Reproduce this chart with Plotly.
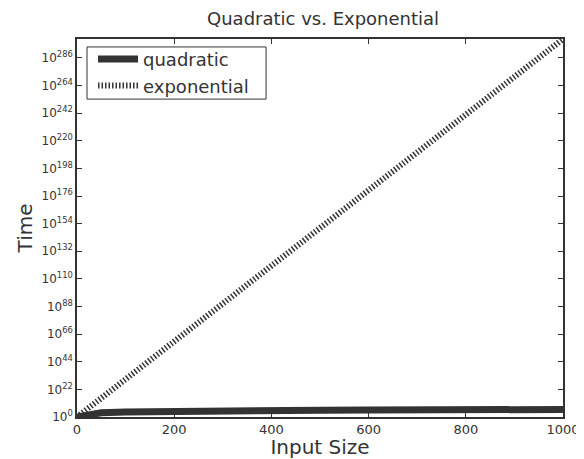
import plotly.graph_objects as go

# Data
quad_x = [1, 50, 100, 200, 300, 400, 500, 600, 700, 800, 900, 1000]
quad_y = [1, 2500, 1e4, 4e4, 9e4, 1.6e5, 2.5e5, 3.6e5, 4.9e5, 6.4e5, 8.1e5, 1e6]
exp_x = [0, 250, 500, 750, 1000]
exp_y = [1, 1.81e75, 3.27e150, 5.92e225, 1.07e301]

x_ticks = [0, 200, 400, 600, 800, 1000]
y_exponents = [0, 22, 44, 66, 88, 110, 132, 154, 176, 198, 220, 242, 264, 286]
y_tickvals = [10.0 ** e for e in y_exponents]
y_ticktext = ["10<sup>%d</sup>" % e for e in y_exponents]

ink = "#333333"
font = "DejaVu Sans"

fig = go.Figure()
fig.add_trace(go.Scatter(x=quad_x, y=quad_y, mode="lines", name="quadratic",
                         line=dict(color=ink, width=7)))
fig.add_trace(go.Scatter(x=exp_x, y=exp_y, mode="lines", name="exponential",
                         line=dict(color=ink, width=6, dash="1.5px,2px")))

# legend frame (drawn as a box behind the legend entries)
fig.add_shape(type="rect", xref="paper", yref="paper",
              x0=0.0206, x1=0.389, y0=0.841, y1=0.979,
              line=dict(color=ink, width=1), fillcolor="white", layer="above")

fig.update_layout(
    width=576, height=451,
    margin=dict(l=69, r=21, t=31, b=42, autoexpand=False),
    paper_bgcolor="white", plot_bgcolor="white",
    font=dict(family=font, color=ink, size=13),
    title=dict(text="Quadratic vs. Exponential", x=0.547, xanchor="center",
               xref="container", yref="paper",
               y=1.0, yanchor="bottom", pad=dict(b=14),
               font=dict(size=18, color=ink)),
    showlegend=True,
    legend=dict(x=0.033, y=0.995, xanchor="left", yanchor="top",
                bgcolor="rgba(0,0,0,0)", borderwidth=0,
                font=dict(size=18, color=ink), itemwidth=40,
                tracegroupgap=0),
)
fig.update_xaxes(
    range=[0, 1000], tickvals=x_ticks, ticks="inside", ticklen=5,
    tickcolor=ink, showline=True, linecolor=ink, linewidth=1.5, mirror="ticks",
    showgrid=False, zeroline=False, automargin=False,
    title=dict(text="Input Size", font=dict(size=20, color=ink), standoff=2),
    tickfont=dict(size=13, color=ink),
)
fig.update_yaxes(
    type="log", range=[0, 301.03], tickvals=y_tickvals, ticktext=y_ticktext,
    ticks="inside", ticklen=5, tickcolor=ink, showline=True, linecolor=ink,
    linewidth=1.5, mirror="ticks", showgrid=False, zeroline=False,
    automargin=False,
    title=dict(text="Time", font=dict(size=20, color=ink), standoff=4),
    tickfont=dict(size=12, color=ink),
)

fig.write_html("out.html")
